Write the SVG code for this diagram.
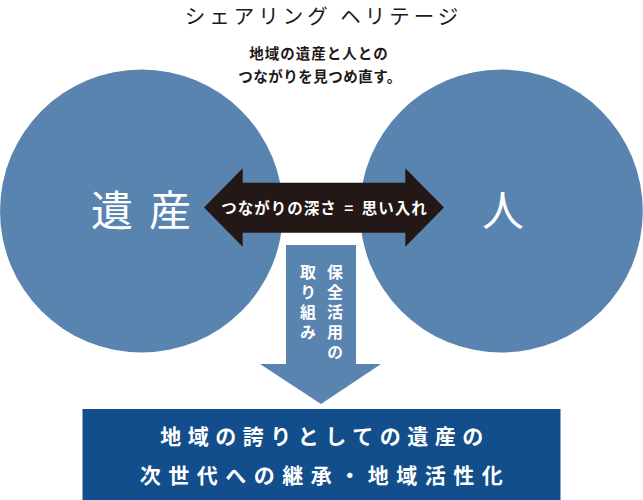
<svg xmlns="http://www.w3.org/2000/svg" width="643" height="500" viewBox="0 0 643 500">
<style>
.t{font-family:"Noto Sans CJK JP","Noto Sans",sans-serif;}
.blue{fill:#5a84b0;}
.dark{fill:#231815;}
.w{fill:#ffffff;}
</style>
<rect width="643" height="500" fill="#ffffff"/>
<g id="title">
<text class="t dark" x="323.5" y="24" font-size="20.5" letter-spacing="4" text-anchor="middle">シェアリング ヘリテージ</text>
<text class="t dark" x="319" y="59" font-size="14.5" font-weight="bold" letter-spacing="1" text-anchor="middle">地域の遺産と人との</text>
<text class="t dark" x="320" y="82" font-size="14.5" font-weight="bold" letter-spacing="0.5" text-anchor="middle">つながりを見つめ直す。</text>
</g>
<g id="heritage">
<circle class="blue" cx="141.5" cy="211" r="141.5"/>
<text class="t w" x="149" y="226" font-size="42" letter-spacing="16" text-anchor="middle">遺産</text>
</g>
<g id="people">
<circle class="blue" cx="501.3" cy="211" r="141.5"/>
<text class="t w" x="503" y="226" font-size="42" text-anchor="middle">人</text>
</g>
<g id="connectors">
<g id="link">
<polygon class="dark" points="204,207.5 242.7,168.3 242.7,182.7 405.3,182.7 405.3,168.3 444,207.5 405.3,246.7 405.3,232.7 242.7,232.7 242.7,246.7"/>
<text class="t w" x="324.5" y="214" font-size="15.5" font-weight="bold" letter-spacing="1" word-spacing="3" text-anchor="middle">つながりの深さ = 思い入れ</text>
</g>
<g id="down">
<polygon class="blue" points="286,245 356,245 356,364 381,364 321,404 260,364 286,364"/>
<text class="t w" x="335" y="264" font-size="16" font-weight="bold" letter-spacing="4" writing-mode="vertical-rl">保全活用の</text>
<text class="t w" x="308" y="264" font-size="16" font-weight="bold" letter-spacing="4" writing-mode="vertical-rl">取り組み</text>
</g>
</g>
<g id="result">
<rect x="82.5" y="409" width="478" height="91" fill="#124e8b"/>
<text class="t w" x="325" y="444" font-size="21" font-weight="bold" letter-spacing="6.5" text-anchor="middle">地域の誇りとしての遺産の</text>
<text class="t w" x="325" y="483" font-size="21" font-weight="bold" letter-spacing="7.5" text-anchor="middle">次世代への継承・地域活性化</text>
</g>
</svg>
